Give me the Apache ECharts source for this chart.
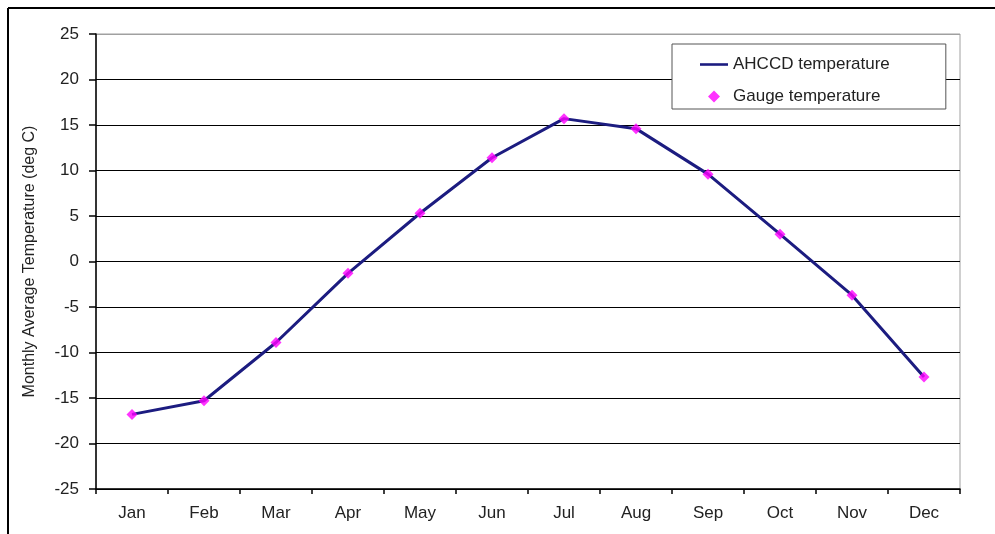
<!DOCTYPE html>
<html>
<head>
<meta charset="utf-8">
<script src="https://cdn.jsdelivr.net/npm/echarts@6/dist/echarts.min.js"></script>
<style>
  html, body { margin: 0; padding: 0; background: #fff; }
  #chart { width: 995px; height: 534px; }
</style>
</head>
<body>
<div id="chart"></div>
<script>
const months = ['Jan', 'Feb', 'Mar', 'Apr', 'May', 'Jun', 'Jul', 'Aug', 'Sep', 'Oct', 'Nov', 'Dec']
const ahccdTemp = [-16.8, -15.3, -8.9, -1.3, 5.3, 11.4, 15.7, 14.6, 9.6, 3.0, -3.7, -12.7]
const gaugeTemp = [-16.8, -15.3, -8.9, -1.3, 5.3, 11.4, 15.7, 14.6, 9.6, 3.0, -3.7, -12.7]

const chart = echarts.init(document.getElementById('chart'))
const font = 'Liberation Sans, Arial, sans-serif'

// gridlines black, top one (plot border) gray
const splitColors = ['#000', '#000', '#000', '#000', '#000', '#000', '#000', '#000', '#000', '#000', '#a0a0a0']

// legend icons drawn in a 28x12 box
const lineIcon = 'path://M0,4.7 L28,4.7 L28,7.3 L0,7.3 Z'
const diamondIcon = 'path://M0,6 L0.01,6 L0,6.01 Z M8,6 L14,0 L20,6 L14,12 Z M28,6 L27.99,6 L28,6.01 Z'

chart.setOption({
  animation: false,
  textStyle: { fontFamily: font },
  grid: { left: 96, right: 35, top: 34, bottom: 45, show: true, borderColor: '#a0a0a0', borderWidth: 1 },
  legend: {
    orient: 'vertical',
    left: 672,
    top: 44,
    padding: [12, 56, 4, 28],
    itemWidth: 28,
    itemHeight: 12,
    itemGap: 15,
    symbolKeepAspect: true,
    backgroundColor: '#fff',
    borderColor: '#555',
    borderWidth: 1,
    textStyle: { fontSize: 17, color: '#222', fontFamily: font },
    data: [
      { name: 'AHCCD temperature', icon: lineIcon },
      { name: 'Gauge temperature', icon: diamondIcon },
    ],
  },
  xAxis: {
    type: 'category',
    data: months,
    boundaryGap: true,
    axisLine: { onZero: false, lineStyle: { color: '#000', width: 1.5 } },
    axisTick: { show: true, length: 5, lineStyle: { color: '#000', width: 1.5 } },
    axisLabel: { color: '#222', fontSize: 17, margin: 16, fontFamily: font },
    splitLine: { show: false },
  },
  yAxis: {
    type: 'value',
    min: -25,
    max: 25,
    interval: 5,
    name: 'Monthly Average Temperature (deg C)',
    nameLocation: 'middle',
    nameGap: 58,
    nameTextStyle: { color: '#222', fontSize: 16, fontFamily: font },
    axisLine: { show: true, lineStyle: { color: '#000', width: 1.5 } },
    axisTick: { show: true, length: 7, lineStyle: { color: '#000', width: 1.5 } },
    axisLabel: { color: '#222', fontSize: 17, margin: 17, fontFamily: font },
    splitLine: { show: true, lineStyle: { color: splitColors, width: 1.2 } },
  },
  graphic: [
    { type: 'line', shape: { x1: 8, y1: 8, x2: 995, y2: 8 }, style: { stroke: '#000', lineWidth: 2 } },
    { type: 'line', shape: { x1: 8, y1: 8, x2: 8, y2: 534 }, style: { stroke: '#000', lineWidth: 2 } },
  ],
  series: [
    {
      name: 'AHCCD temperature',
      type: 'line',
      data: ahccdTemp,
      symbol: 'none',
      lineStyle: { color: '#1c1c80', width: 3 },
      itemStyle: { color: '#1c1c80' },
      z: 3,
    },
    {
      name: 'Gauge temperature',
      type: 'scatter',
      data: gaugeTemp,
      symbol: 'diamond',
      symbolSize: 11,
      itemStyle: { color: '#ff00ff' },
      z: 4,
    },
  ],
})
</script>
</body>
</html>
